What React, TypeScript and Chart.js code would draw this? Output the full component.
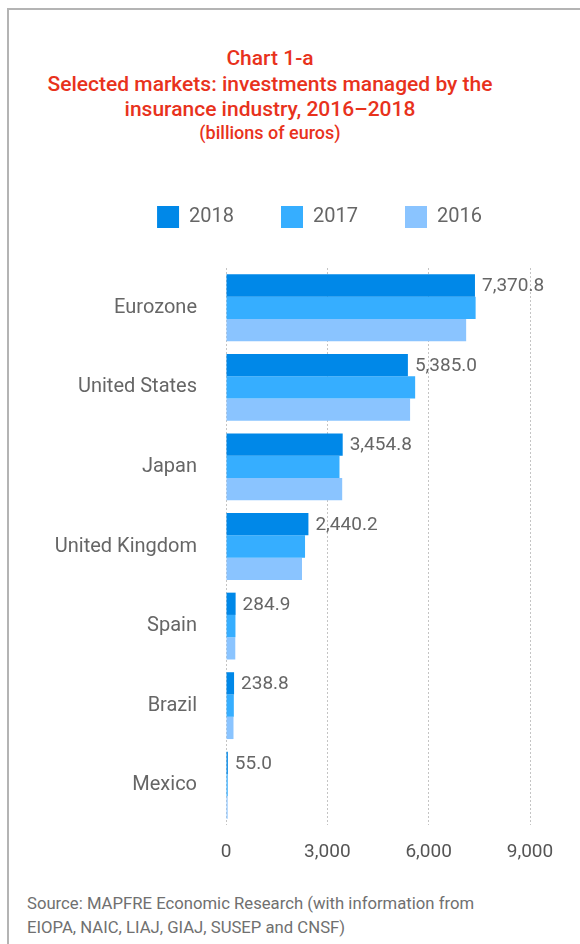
import React, { useEffect, useRef } from "react";
import { Chart, registerables } from "chart.js";

Chart.register(...registerables);

const categories = ["Eurozone", "United States", "Japan", "United Kingdom", "Spain", "Brazil", "Mexico"];
const seriesNames = ["2018", "2017", "2016"];
const values2018 = [7370.8, 5385.0, 3454.8, 2440.2, 284.9, 238.8, 55.0];
const values2017 = [7390, 5600, 3360, 2340, 280, 232, 52];
const values2016 = [7110, 5450, 3440, 2250, 275, 222, 48];
const xTickValues = [0, 3000, 6000, 9000];
const seriesColors = ["#0088e8", "#36aeff", "#8ac4ff"];

const titleLines = [
  "Chart 1-a",
  "Selected markets: investments managed by the",
  "insurance industry, 2016–2018",
];
const subtitleText = "(billions of euros)";
const sourceLines = [
  "Source: MAPFRE Economic Research (with information from",
  "EIOPA, NAIC, LIAJ, GIAJ, SUSEP and CNSF)",
];

const FONT = "Roboto, 'Noto Sans', sans-serif";

const fmt1 = (v: number) =>
  v.toLocaleString("en-US", { minimumFractionDigits: 1, maximumFractionDigits: 1 });

const valueLabelPlugin = {
  id: "valueLabels",
  afterDatasetsDraw(chart: any) {
    const meta = chart.getDatasetMeta(0);
    const ctx = chart.ctx;
    ctx.save();
    ctx.font = `19px ${FONT}`;
    ctx.fillStyle = "#666666";
    ctx.textAlign = "left";
    ctx.textBaseline = "middle";
    meta.data.forEach((bar: any, i: number) => {
      ctx.fillText(fmt1(values2018[i]), bar.x + 7, bar.y + 1);
    });
    ctx.restore();
  },
};

export default function App() {
  const canvasRef = useRef<HTMLCanvasElement | null>(null);

  useEffect(() => {
    document.documentElement.style.overflow = "hidden";
    const canvas = canvasRef.current;
    if (!canvas) return;
    const chart = new Chart(canvas, {
      type: "bar",
      data: {
        labels: categories,
        datasets: [values2018, values2017, values2016].map((vals, i) => ({
          label: seriesNames[i],
          data: vals,
          backgroundColor: seriesColors[i],
          borderWidth: 0,
          categoryPercentage: 0.84,
          barPercentage: 1,
          xAxisID: "x",
          yAxisID: "y",
        })),
      },
      options: {
        indexAxis: "y",
        responsive: false,
        maintainAspectRatio: false,
        animation: false,
        layout: { padding: { left: 41, right: 2, top: 9, bottom: 5 } },
        plugins: {
          tooltip: { enabled: false },
          legend: {
            position: "top",
            labels: {
              boxWidth: 22,
              boxHeight: 22,
              padding: 47,
              color: "#666666",
              font: { family: FONT, size: 20 },
            },
          },
        },
        scales: {
          x: {
            type: "linear",
            position: "bottom",
            min: 0,
            max: 9000,
            afterBuildTicks: (s: any) => {
              s.ticks = xTickValues.map((v) => ({ value: v }));
            },
            ticks: {
              color: "#555555",
              font: { family: FONT, size: 19 },
              padding: 16,
              callback: (v: any) => Number(v).toLocaleString("en-US"),
            },
            grid: { color: "#c4c4c4", lineWidth: 1, drawTicks: false },
            border: { display: false, dash: [2, 2] },
            afterFit: (s: any) => {
              s.height = 45;
            },
          },
          xTopSpacer: {
            type: "linear",
            position: "top",
            display: true,
            grid: { display: false, drawTicks: false },
            ticks: { display: false },
            border: { display: false },
            afterFit: (s: any) => {
              s.height = 30;
            },
          },
          y: {
            type: "category",
            position: "left",
            grid: { display: false, drawTicks: false },
            border: { display: false },
            ticks: {
              color: "#666666",
              font: { family: FONT, size: 20 },
              padding: 29,
            },
            afterFit: (s: any) => {
              s.width = 175;
            },
          },
          yRightSpacer: {
            type: "linear",
            position: "right",
            display: true,
            grid: { display: false, drawTicks: false },
            ticks: { display: false },
            border: { display: false },
            afterFit: (s: any) => {
              s.width = 58;
            },
          },
        },
      },
      plugins: [valueLabelPlugin],
    } as any);
    return () => chart.destroy();
  }, []);

  return (
    <div
      style={{
        position: "absolute",
        left: 7,
        top: 8,
        width: 573,
        height: 936,
        boxSizing: "border-box",
        borderLeft: "2px solid #b4b4b4",
        borderTop: "2px solid #b4b4b4",
        overflow: "hidden",
        fontFamily: FONT,
        background: "#ffffff",
      }}
    >
      <div
        style={{
          position: "absolute",
          left: 0,
          top: 36,
          width: 522,
          textAlign: "center",
          color: "#e8321c",
          fontWeight: 500,
        }}
      >
        {titleLines.map((t, i) => (
          <div key={i} style={{ fontSize: 21, lineHeight: "25.5px", whiteSpace: "nowrap" }}>
            {t}
          </div>
        ))}
        <div style={{ fontSize: 18, lineHeight: "19px" }}>{subtitleText}</div>
      </div>
      <canvas
        ref={canvasRef}
        width={580}
        height={725}
        style={{ position: "absolute", left: 1, top: 140, width: 580, height: 725 }}
      />
      <div
        style={{
          position: "absolute",
          left: 18,
          top: 882,
          color: "#707070",
          fontSize: 16.7,
          lineHeight: "24px",
          whiteSpace: "nowrap",
        }}
      >
        {sourceLines.map((t, i) => (
          <div key={i}>{t}</div>
        ))}
      </div>
    </div>
  );
}
